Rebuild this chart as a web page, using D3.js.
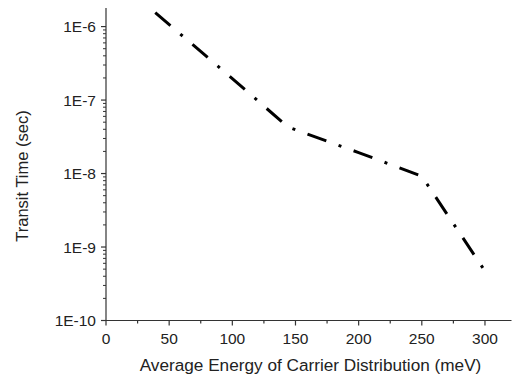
<!DOCTYPE html>
<html><head><meta charset="utf-8">
<script src="https://cdn.jsdelivr.net/npm/d3@7"></script>
<style>
html,body{margin:0;padding:0;background:#fff;}
svg{display:block;font-family:"Liberation Sans",Arial,sans-serif;}
</style></head>
<body><svg id="c" width="513" height="377"></svg>
<script>
const energy = [39, 100, 144, 200, 250, 300];
const transit = [1.55e-6, 1.96e-7, 4.3e-8, 1.93e-8, 9.2e-9, 4.7e-10];
const xTicks = [0, 50, 100, 150, 200, 250, 300];
const yTicks = [1e-10, 1e-9, 1e-8, 1e-7, 1e-6];
const yTickLabels = ["1E-10", "1E-9", "1E-8", "1E-7", "1E-6"];
const xLabel = "Average Energy of Carrier Distribution (meV)";
const yLabel = "Transit Time (sec)";

const svg = d3.select("#c");
const x = d3.scaleLinear().domain([0, 321]).range([106, 511.5]);
const y = d3.scaleLog().domain([1e-10, 1.79e-6]).range([320.5, 8]);

const stroke = "#333";
const xMinor = d3.range(25, 321, 50);
const gx = svg.append("g").attr("transform", `translate(0,${y(1e-10)})`);
gx.append("line").attr("x1", x.range()[0]).attr("x2", x.range()[1]).attr("stroke", stroke).attr("stroke-width", 1.2);
gx.selectAll(".maj").data(xTicks).join("line").attr("x1", d => x(d)).attr("x2", d => x(d)).attr("y1", 0).attr("y2", 5).attr("stroke", stroke).attr("stroke-width", 1.2);
gx.selectAll(".min").data(xMinor).join("line").attr("x1", d => x(d)).attr("x2", d => x(d)).attr("y1", 0).attr("y2", 3).attr("stroke", stroke).attr("stroke-width", 1.2);
gx.selectAll("text").data(xTicks).join("text").attr("x", d => x(d)).attr("y", 23.5).attr("text-anchor", "middle").attr("font-size", 15.5).attr("fill", "#222").text(d => d);

const gy = svg.append("g").attr("transform", `translate(${x(0)},0)`);
gy.append("line").attr("y1", y.range()[0]).attr("y2", y.range()[1]).attr("stroke", stroke).attr("stroke-width", 1.2);
const yMinor = [];
for (let e = -10; e <= -7; e++) for (let m = 2; m <= 9; m++) yMinor.push(m * Math.pow(10, e));
gy.selectAll(".min").data(yMinor.filter(d => d <= y.domain()[1])).join("line").attr("x1", 0).attr("x2", -3).attr("y1", d => y(d)).attr("y2", d => y(d)).attr("stroke", stroke).attr("stroke-width", 1);
gy.selectAll(".maj").data(yTicks).join("line").attr("x1", 0).attr("x2", -5).attr("y1", d => y(d)).attr("y2", d => y(d)).attr("stroke", stroke).attr("stroke-width", 1.2);
gy.selectAll("text").data(yTicks).join("text").attr("x", -10).attr("y", d => y(d) + 5.5).attr("text-anchor", "end").attr("font-size", 15.5).attr("fill", "#222").text((d, i) => yTickLabels[i]);

svg.append("text").attr("x", 310.5).attr("y", 371).attr("text-anchor", "middle").attr("font-size", 17.2).attr("fill", "#222").text(xLabel);
svg.append("text").attr("transform", "translate(28,176) rotate(-90)").attr("text-anchor", "middle").attr("font-size", 16.5).attr("fill", "#222").text(yLabel);

const pts = energy.map((e, i) => [e, transit[i]]);
svg.append("path").datum(pts)
  .attr("d", d3.line().x(d => x(d[0])).y(d => y(d[1])))
  .attr("fill", "none").attr("stroke", "#000").attr("stroke-width", 3)
  .attr("stroke-dasharray", "20,13,3,13");
</script></body></html>
